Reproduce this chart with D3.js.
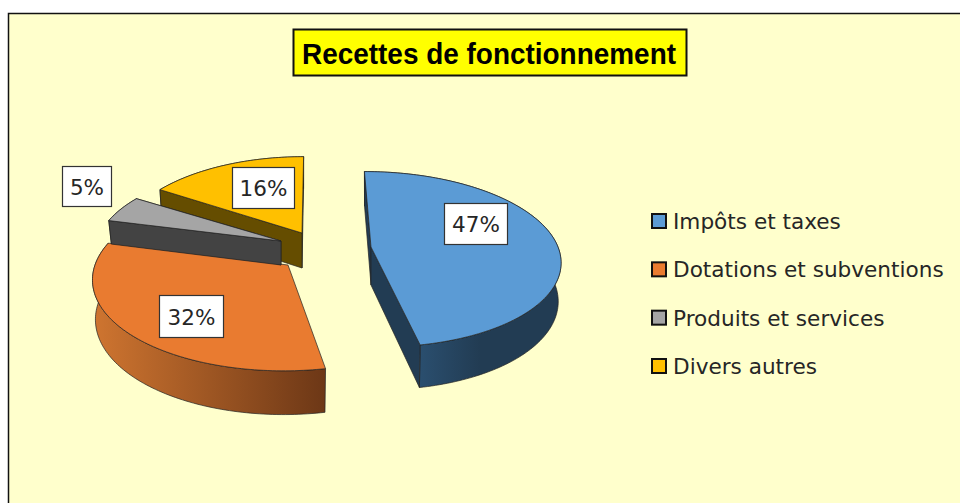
<!DOCTYPE html>
<html>
<head>
<meta charset="utf-8">
<script src="https://cdn.jsdelivr.net/npm/d3@7"></script>
<style>
  html, body { margin: 0; padding: 0; background: #fff; }
  svg { display: block; }
  text { font-family: "DejaVu Sans", sans-serif; fill: #262626; }
</style>
</head>
<body>
<div id="chart"></div>
<script>
const categories = ['Impôts et taxes', 'Dotations et subventions', 'Produits et services', 'Divers autres'];
const values = [47, 32, 5, 16];
const chartTitle = 'Recettes de fonctionnement';

const width = 960, height = 503;
const topColors = ['#5b9bd5', '#e97b30', '#a5a5a5', '#ffc000'];
const sideColors = ['#223c53', '#6c3716', '#434343', '#654d00'];

// exploded position of every slice, all by hand from the picture
const apex = [[371, 247], [288, 265], [281, 241], [302, 233]];
const radiusX = [187, 193, 184, 182];
const radiusY = [86, 91, 85, 87];
const shear = [0.04, -0.02, 0, -0.01];
const depth = [38, 39, 24, 35];
const labelBox = [[444, 203, 63, 41], [159, 295, 64, 42], [62, 166, 49, 40], [232, 167, 62, 41]];

const persp = 0.14;

const svg = d3.select('#chart').append('svg').attr('width', width).attr('height', height);
const defs = svg.append('defs');

function gradient(id, x1, x2, from, to) {
  const g = defs.append('linearGradient').attr('id', id)
    .attr('gradientUnits', 'userSpaceOnUse')
    .attr('x1', x1).attr('x2', x2).attr('y1', 0).attr('y2', 0);
  g.append('stop').attr('offset', 0).attr('stop-color', from);
  g.append('stop').attr('offset', 1).attr('stop-color', to);
}
gradient('wall0', 421, 480, '#2a4e6e', '#223c53');
gradient('wall1', 93, 327, '#cf7530', '#6c3716');
gradient('wall2', 108, 281, '#434343', '#434343');
gradient('wall3', 158, 304, '#654d00', '#654d00');

svg.append('rect').attr('x', 8.5).attr('y', 13.5).attr('width', width).attr('height', height)
  .attr('fill', '#ffffcc').attr('stroke', '#111').attr('stroke-width', 1.5);

// pie angle -> screen, front of the disc is a bit bigger than the back
function project(i, a, k = 1, dz = 0) {
  const u = Math.sin(a), v = Math.cos(a);
  const s = 1 / (1 + persp * v);
  return [
    apex[i][0] + k * radiusX[i] * (u - shear[i] * v) * s,
    apex[i][1] - k * radiusY[i] * v * s + dz * s
  ];
}

function arcPoints(i, d, k, dz) {
  const n = Math.ceil((d.endAngle - d.startAngle) / 0.02);
  return d3.range(n + 1).map(j => project(i, d.startAngle + (d.endAngle - d.startAngle) * j / n, k, dz));
}

const line = d3.line();
const arcs = d3.pie().sort(null)(values);

// painter order: blue stands alone, then orange, yellow, and grey on top
[0, 1, 3, 2].forEach(i => {
  const d = arcs[i];
  const g = svg.append('g');
  const dz = depth[i];
  const topPts = arcPoints(i, d, 1, 0);
  const botPts = arcPoints(i, d, 0.985, dz);
  const a = apex[i], b = [a[0], a[1] + dz];

  g.append('path').attr('d', line(topPts.concat(botPts.slice().reverse())) + 'Z')
    .attr('fill', `url(#wall${i})`).attr('stroke', '#222').attr('stroke-width', 0.7);

  const startWall = [a, topPts[0], botPts[0], b];
  const endWall = [a, topPts[topPts.length - 1], botPts[botPts.length - 1], b];
  // whichever cut faces the viewer goes last, orange shows none of its cuts
  const cuts = i == 1 ? [] : i == 0 ? [startWall, endWall] : [endWall, startWall];
  cuts.forEach(q => {
    g.append('path').attr('d', line(q) + 'Z').attr('fill', sideColors[i])
      .attr('stroke', '#222').attr('stroke-width', 0.7);
  });

  g.append('path').attr('d', line([a].concat(topPts)) + 'Z')
    .attr('fill', topColors[i]).attr('stroke', '#222').attr('stroke-width', 0.7);
});

// value labels
values.forEach((v, i) => {
  const b = labelBox[i];
  svg.append('rect').attr('x', b[0] + .5).attr('y', b[1] + .5).attr('width', b[2]).attr('height', b[3])
    .attr('fill', '#fff').attr('stroke', '#333').attr('stroke-width', 1.2);
  svg.append('text').attr('x', b[0] + b[2] / 2 + .5).attr('y', b[1] + b[3] / 2 + 8.5)
    .attr('text-anchor', 'middle').attr('font-size', 21.5).text(v + '%');
});

// legend
const legendY = d3.scalePoint().domain(categories).range([221, 366]);
categories.forEach((c, i) => {
  const y = legendY(c);
  svg.append('rect').attr('x', 652).attr('y', y - 7).attr('width', 14).attr('height', 14)
    .attr('fill', topColors[i]).attr('stroke', '#111').attr('stroke-width', 2);
  svg.append('text').attr('x', 673).attr('y', y + 8).attr('font-size', 21.6).text(c);
});

// title
svg.append('rect').attr('x', 293.5).attr('y', 29.5).attr('width', 393).attr('height', 46)
  .attr('fill', '#ffff00').attr('stroke', '#111').attr('stroke-width', 2);
svg.append('text').attr('x', 489).attr('y', 64).attr('text-anchor', 'middle')
  .attr('font-size', 30).attr('font-weight', 'bold')
  .attr('textLength', 374).attr('lengthAdjust', 'spacingAndGlyphs')
  .style('font-family', '"Liberation Sans", sans-serif').style('fill', '#000')
  .text(chartTitle);
</script>
</body>
</html>
